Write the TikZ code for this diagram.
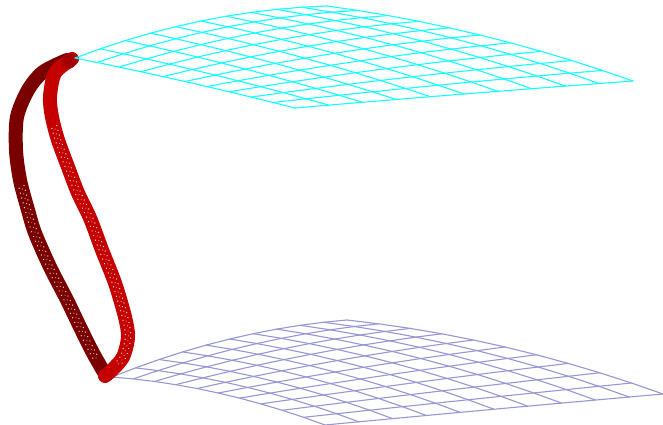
\documentclass[tikz,border=0pt]{standalone}
\usetikzlibrary{decorations.markings}
\definecolor{cyanmesh}{RGB}{20,255,255}
\definecolor{lowmesh}{RGB}{150,150,212}
\definecolor{darkred}{RGB}{122,0,0}
\definecolor{brightred}{RGB}{196,0,0}
\definecolor{knotred}{RGB}{165,0,0}
\tikzset{
	specks/.style={postaction={decorate,decoration={markings,mark=between positions #1 and 0.95 step 5pt with {\fill[white,opacity=0.85] (0,2.7pt) circle (0.7pt) (1.5pt,-2.7pt) circle (0.7pt) (3pt,0.3pt) circle (0.5pt);}}}},
	tube/.style={line width=14pt,line cap=round,line join=round},
}
\begin{document}
\begin{tikzpicture}[x=1pt,y=-1pt,line join=round,line cap=round,
	declare function={qa(\t)=(1-\t)*(1-\t);qb(\t)=2*\t*(1-\t);qc(\t)=\t*\t;
	topx(\u,\v)=qa(\v)*(75*qa(\u)+201*qb(\u)+327*qc(\u))+qb(\v)*(185*qa(\u)+340*qb(\u)+480*qc(\u))+qc(\v)*(295*qa(\u)+464*qb(\u)+633*qc(\u));
	topy(\u,\v)=qa(\v)*(58*qa(\u)+10*qb(\u)+6*qc(\u))+qb(\v)*(80*qa(\u)+45*qb(\u)+26.5*qc(\u))+qc(\v)*(108*qa(\u)+93.5*qb(\u)+81*qc(\u));
	lowx(\u,\v)=qa(\v)*(112*qa(\u)+230*qb(\u)+347*qc(\u))+qb(\v)*(218*qa(\u)+370*qb(\u)+505*qc(\u))+qc(\v)*(325*qa(\u)+494*qb(\u)+663*qc(\u));
	lowy(\u,\v)=qa(\v)*(377*qa(\u)+329.5*qb(\u)+320*qc(\u))+qb(\v)*(385*qa(\u)+360*qb(\u)+337*qc(\u))+qc(\v)*(425*qa(\u)+409*qb(\u)+394*qc(\u));}]
	\useasboundingbox (0,0) rectangle (663,425);
	% lower sheet
	\foreach \k in {0,...,10} {
		\draw[lowmesh,line width=1.1pt] plot[domain=0:1,samples=11] ({lowx(\x,\k/10)},{lowy(\x,\k/10)});
		\draw[lowmesh,line width=1.1pt] plot[domain=0:1,samples=11] ({lowx(\k/10,\x)},{lowy(\k/10,\x)});
	}
	% tube
	\draw[tube,darkred,specks=0.42] plot[smooth] coordinates {(67,60) (43,72) (28,90) (17,117) (16,150) (20,180) (28,210) (35,233) (50,267) (67,300) (80,327) (93,353) (105,374)};
	\draw[tube,brightred,specks=0.22] plot[smooth] coordinates {(72,59) (55,73) (50,97) (52,117) (58,140) (68,167) (78,193) (90,218) (102,250) (115,283) (125,317) (128,337) (123,357) (112,370) (105,376)};
	\fill[knotred] (69,61) circle (7.5pt);
	% upper sheet
	\foreach \k in {0,...,10} {
		\draw[cyanmesh,line width=1.1pt] plot[domain=0:1,samples=11] ({topx(\x,\k/10)},{topy(\x,\k/10)});
		\draw[cyanmesh,line width=1.1pt] plot[domain=0:1,samples=11] ({topx(\k/10,\x)},{topy(\k/10,\x)});
	}
\end{tikzpicture}
\end{document}
